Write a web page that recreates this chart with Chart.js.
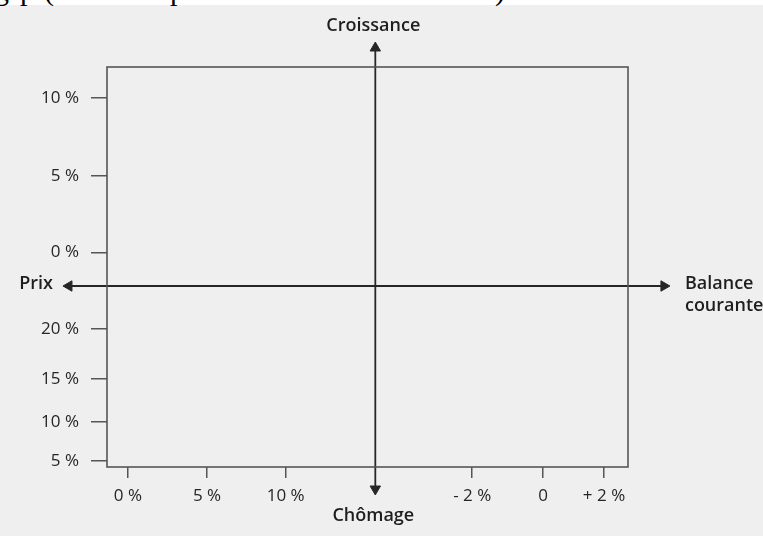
<!DOCTYPE html>
<html lang="fr">
<head>
<meta charset="utf-8">
<title>Carré magique</title>
<script src="https://cdn.jsdelivr.net/npm/chart.js@4.4.1/dist/chart.umd.min.js"></script>
<style>
    html, body { margin: 0; padding: 0; background: #efefef; }
    #wrap { position: relative; width: 763px; height: 536px; overflow: hidden; }
    #strip { position: absolute; left: 0; top: 0; width: 763px; height: 5px; background: #fff; }
    .cut { position: absolute; top: -25px; font: 30px "Liberation Serif", serif; color: #000; line-height: 30px; }
    canvas { position: absolute; left: 0; top: 0; }
</style>
</head>
<body>
<div id="wrap">
    <div id="strip"></div>
    <span class="cut" style="left:-6px">g</span>
    <span class="cut" style="left:20px">p</span>
    <span class="cut" style="left:44px">(</span>
    <span class="cut" style="left:170px">p</span>
    <span class="cut" style="left:495px">)</span>
    <canvas id="magicSquare" width="763" height="536"></canvas>
</div>
<script>
// tick positions on a 0..100 frame, and their labels
const xTickPos = [4.0, 19.2, 34.3, 70.1, 83.7, 95.4];
const xTickLabels = ["0 %", "5 %", "10 %", "- 2 %", "0", "+ 2 %"];
const yTickPos = [92.25, 72.75, 53.6, 34.5, 22, 11.3, 1.5];
const yTickLabels = ["10 %", "5 %", "0 %", "20 %", "15 %", "10 %", "5 %"];

// the two crossing arrows (start, end)
const growthArrow = [{ x: 51.5, y: -5.5 }, { x: 51.5, y: 104.75 }];
const priceArrow = [{ x: -7.3, y: 45.25 }, { x: 106.9, y: 45.25 }];

const topName = "Croissance";
const bottomName = "Chômage";
const leftName = "Prix";
const rightName = ["Balance", "courante"];

(() => {
    const canvas = document.getElementById("magicSquare");
    const ink = "#262626";

    // arrow heads sit outside the chart area, so draw the points again without the area check
    const arrowHeads = {
        id: "arrowHeads",
        afterDatasetsDraw(chart) {
            const whole = { left: 0, top: 0, right: chart.width, bottom: chart.height };
            chart.data.datasets.forEach((ds, i) => {
                chart.getDatasetMeta(i).data.forEach((pt) => pt.draw(chart.ctx, whole));
            });
        }
    };

    const frameAndNames = {
        id: "frameAndNames",
        afterDraw(chart) {
            const { ctx, chartArea, scales } = chart;
            ctx.save();
            ctx.strokeStyle = "#555";
            ctx.lineWidth = 1.6;
            ctx.strokeRect(chartArea.left, chartArea.top,
                chartArea.right - chartArea.left, chartArea.bottom - chartArea.top);

            ctx.fillStyle = "#1e1e1e";
            ctx.font = "600 18px 'Open Sans'";
            ctx.textBaseline = "middle";

            const gx = scales.x.getPixelForValue(growthArrow[0].x);
            const gTop = scales.y.getPixelForValue(growthArrow[1].y);
            const gBottom = scales.y.getPixelForValue(growthArrow[0].y);
            ctx.textAlign = "center";
            ctx.fillText(topName, gx - 2, gTop - 22);
            ctx.fillText(bottomName, gx - 2, gBottom + 27);

            const py = scales.y.getPixelForValue(priceArrow[0].y);
            const pLeft = scales.x.getPixelForValue(priceArrow[0].x);
            const pRight = scales.x.getPixelForValue(priceArrow[1].x);
            ctx.textAlign = "right";
            ctx.fillText(leftName, pLeft - 16, py - 2);
            ctx.textAlign = "left";
            ctx.fillText(rightName[0], pRight + 21, py - 2);
            ctx.fillText(rightName[1], pRight + 21, py + 20);
            ctx.restore();
        }
    };

    const arrow = (data, rotations) => ({
        data,
        showLine: true,
        borderColor: ink,
        borderWidth: 1.8,
        pointStyle: "triangle",
        pointRadius: 6,
        pointRotation: rotations,
        pointBackgroundColor: ink,
        pointBorderColor: ink,
        pointBorderWidth: 1,
        clip: false
    });

    new Chart(canvas, {
        type: "scatter",
        data: {
            datasets: [
                arrow(growthArrow, [180, 0]),
                arrow(priceArrow, [270, 90])
            ]
        },
        options: {
            responsive: false,
            animation: false,
            events: [],
            layout: {
                padding: { top: 67, right: 135, left: 0, bottom: 0 }
            },
            scales: {
                x: {
                    type: "linear",
                    min: 0,
                    max: 100,
                    afterBuildTicks: (s) => { s.ticks = xTickPos.map((v) => ({ value: v })); },
                    afterFit: (s) => { s.height = 69; },
                    grid: { drawOnChartArea: false, drawTicks: true, tickLength: 11, color: "#555", lineWidth: 1.5 },
                    border: { display: false },
                    ticks: {
                        autoSkip: false,
                        maxRotation: 0,
                        padding: 8,
                        color: "#262626",
                        font: { family: "Open Sans", size: 17 },
                        callback: (v, i) => xTickLabels[i]
                    }
                },
                y: {
                    type: "linear",
                    min: 0,
                    max: 100,
                    afterBuildTicks: (s) => { s.ticks = yTickPos.map((v) => ({ value: v })); },
                    afterFit: (s) => { s.width = 107; },
                    grid: { drawOnChartArea: false, drawTicks: true, tickLength: 16, color: "#555", lineWidth: 1.5 },
                    border: { display: false },
                    ticks: {
                        autoSkip: false,
                        padding: 12,
                        color: "#262626",
                        font: { family: "Open Sans", size: 17 },
                        callback: (v, i) => yTickLabels[i]
                    }
                }
            },
            plugins: {
                legend: { display: false },
                tooltip: { enabled: false }
            }
        },
        plugins: [arrowHeads, frameAndNames]
    });
})();
</script>
</body>
</html>
